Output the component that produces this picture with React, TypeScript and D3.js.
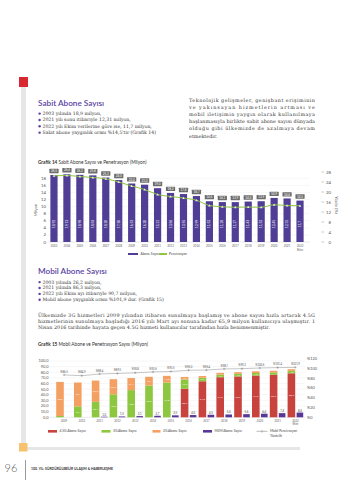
import React from 'react';
import * as d3 from 'd3';

const years14 = ['2003','2004','2005','2006','2007','2008','2009','2010','2011','2012','2013','2014','2015','2016','2017','2018','2019','2020','2021','2022 Ekim'];
const subs14 = [18.92,19.13,18.98,18.83,18.20,17.50,16.53,16.20,15.21,13.86,13.55,12.99,11.52,11.28,11.27,11.43,11.52,12.45,12.31,11.7];
const pen14 = [26.5,26.6,26.2,25.8,25.3,24.0,22.4,21.0,19.0,18.2,17.6,16.7,14.6,14.1,13.9,14.0,13.9,14.9,14.6,14.5];
const leftTicks14 = [0,2,4,6,8,10,12,14,16,18];
const rightTicks14 = [0,4,8,12,16,20,24,28];

const years15 = ['2009','2010','2011','2012','2013','2014','2015','2016','2017','2018','2019','2020','2021','2022 Ekim'];
const g45 = [0,0,0,0,0,0,0,50.7,64.0,71.2,72.6,74.2,75.6,78.2];
const g3 = [2.3,19.4,27.4,40.8,48.3,56.5,61.8,16.5,6.2,4.6,4.6,4.5,4.1,4.3];
const g2 = [60.5,42.4,37.9,26.9,21.4,15.4,11.8,4.5,3.1,3.1,3.0,3.0,3.0,3.0];
const m2m = [0,0,1.0,1.5,2.1,2.7,3.5,4.0,4.5,5.0,5.6,6.4,7.4,8.4];
const pen15 = [86.5,84.9,88.4,89.5,90.8,92.6,93.5,96.0,96.4,98.7,99.2,100.6,101.4,101.9];
const leftTicks15 = [0,10,20,30,40,50,60,70,80,90,100];
const rightTicks15 = [0,20,40,60,80,100,120];

const sabitBullets = ['2003 yılında 18,9 milyon,','2021 yılı sonu itibarıyle 12,31 milyon,','2022 yılı Ekim verilerine göre ise, 11,7 milyon,',"Sabit abone yaygınlık oranı %14,5'tir (Grafik 14)"];
const mobilBullets = ['2003 yılında 26,2 milyon,','2021 yılında 86,3 milyon,','2022 yılı Ekim ayı itibarıyle 90,7 milyon,','Mobil abone yaygınlık oranı %101,9 dur. (Grafik 15)'];
const rightPara = ['Teknolojik gelişmeler, genişbant erişiminin','ve yakınsayan hizmetlerin artması ve','mobil iletişimin yaygın olarak kullanılmaya','başlanmasıyla birlikte sabit abone sayısı dünyada','olduğu gibi ülkemizde de azalmaya devam','etmektedir.'];
const mobilPara = ['Ülkemizde 3G hizmetleri 2009 yılından itibaren sunulmaya başlamış ve abone sayısı hızla artarak 4.5G','hizmetlerinin sunulmaya başladığı 2016 yılı Mart ayı sonuna kadar 65,9 milyon kullanıcıya ulaşmıştır. 1','Nisan 2016 tarihinde hayata geçen 4.5G hizmeti kullanıcılar tarafından hızla benimsenmiştir.'];

const PURPLE = '#4f3d96';
const TITLE = '#5b44a3';
const GREEN = '#8dc63f';
const RED = '#c8423e';
const ORANGE = '#f4a062';
const SANS = 'Lato, "Open Sans", sans-serif';
const SERIF = '"DejaVu Serif", serif';

const c = (v: number, d = 1) => v.toFixed(d).replace('.', ',');

export default function App() {
  const x14 = d3.scaleBand().domain(years14).range([47.5, 306.5]);
  const yL14 = d3.scaleLinear().domain([0, 18]).range([242, 178.3]);
  const yR14 = d3.scaleLinear().domain([0, 28]).range([242, 172]);
  const cx14 = (i: number) => (x14(years14[i]) as number) + x14.bandwidth() / 2;
  const line14 = d3.line<number>().x((_, i) => cx14(i)).y(d => yR14(d)).curve(d3.curveMonotoneX)(pen14) as string;

  const x15 = d3.scaleBand().domain(years15).range([55, 304.2]);
  const yL15 = d3.scaleLinear().domain([0, 100]).range([417.3, 361]);
  const yR15 = d3.scaleLinear().domain([0, 120]).range([417.3, 358.5]);
  const sx = (i: number) => (x15(years15[i]) as number) + 5;
  const px = (i: number) => (x15(years15[i]) as number) + 13.5;
  const line15 = d3.line<number>().x((_, i) => sx(i) + 4).y(d => yR15(d))(pen15) as string;
  const stackData = years15.map((y, i) => ({ y, a: g45[i], b: g3[i], c: g2[i] }));
  const stacked = d3.stack<any>().keys(['a', 'b', 'c'])(stackData);
  const segColors = [RED, GREEN, ORANGE];

  return (
    <svg width={339} height={480} style={{ position: 'absolute', left: 0, top: 0, background: '#fff' }}>
      <rect width={339} height={480} fill="#fff" />
      <rect x={21} y={86} width={5} height={358} fill="#e6e6e8" />
      <rect x={19} y={77} width={9} height={10} fill="#d7282f" />
      <rect x={26} y={447} width={274} height={3} fill="#e6e6e8" />
      <rect x={19} y={443} width={8.5} height={8.5} fill="#f6c26d" />

      <text x={38} y={105.5} fontFamily={SANS} fontSize={8.2} fontWeight={600} fill={TITLE}>Sabit Abone Sayısı</text>
      {sabitBullets.map((t, i) => (
        <g key={t}>
          <circle cx={39.6} cy={115 + i * 6.35 - 1.4} r={1.2} fill={TITLE} />
          <text x={42.5} y={115 + i * 6.35} fontFamily={SERIF} fontSize={4.6} fill="#333">{t}</text>
        </g>
      ))}
      {rightPara.map((t, i) => (
        <text key={t} x={189} y={101.5 + i * 7.2} fontFamily={SERIF} fontSize={4.9} fill="#333"
          {...(i < rightPara.length - 1 ? { textLength: 126, lengthAdjust: 'spacing' } : {})}>{t}</text>
      ))}

      <text x={38} y={163.5} fontFamily={SANS} fontSize={4.7} fill="#333">
        <tspan fontWeight={700}>Grafik 14</tspan> Sabit Abone Sayısı ve Penetrasyon (Milyon)
      </text>
      {leftTicks14.map(t => (
        <g key={'l14' + t}>
          <line x1={48} x2={310} y1={yL14(t)} y2={yL14(t)} stroke={t === 0 ? '#c8c8c8' : '#ececec'} strokeWidth={0.4} />
          <text x={46} y={yL14(t) + 1.5} textAnchor="end" fontFamily={SANS} fontSize={4.3} fill="#555">{t}</text>
        </g>
      ))}
      {rightTicks14.map(t => (
        <g key={'r14' + t}>
          <line x1={321.5} x2={324} y1={yR14(t)} y2={yR14(t)} stroke="#777" strokeWidth={0.4} />
          <text x={331} y={yR14(t) + 1.5} textAnchor="end" fontFamily={SANS} fontSize={4.3} fill="#555">{t}</text>
        </g>
      ))}
      <text transform={`translate(37,210) rotate(-90)`} textAnchor="middle" fontFamily={SANS} fontSize={4.2} fill="#555">Milyon</text>
      <text transform={`translate(335,205) rotate(90)`} textAnchor="middle" fontFamily={SANS} fontSize={4.2} fill="#555">Yüzde (%)</text>
      {subs14.map((v, i) => (
        <g key={'b14' + i}>
          <rect x={cx14(i) - 3.6} y={yL14(v)} width={7.2} height={242 - yL14(v)} fill={PURPLE} />
          <text transform={`translate(${cx14(i) + 1.1},224) rotate(-90)`} textAnchor="middle" fontFamily={SANS} fontSize={3.4} fill="#fff">{i === subs14.length - 1 ? c(v, 1) : c(v, 2)}</text>
          <rect x={cx14(i) - 4.6} y={yL14(v) - 6.3} width={9.2} height={4.4} fill="#6b6b6b" rx={0.4} />
          <text x={cx14(i)} y={yL14(v) - 2.9} textAnchor="middle" fontFamily={SANS} fontSize={3.1} fill="#fff">{c(pen14[i], 1)}</text>
          {years14[i].split(' ').map((s, k) => (
            <text key={s} x={cx14(i)} y={247 + k * 3.5} textAnchor="middle" fontFamily={SANS} fontSize={2.9} fill="#666">{s}</text>
          ))}
        </g>
      ))}
      <path d={line14} fill="none" stroke={GREEN} strokeWidth={1} />
      {pen14.map((v, i) => (
        <path key={'m14' + i} d={`M${cx14(i) - 1.3},${yR14(v) + 1} L${cx14(i) + 1.3},${yR14(v) + 1} L${cx14(i)},${yR14(v) - 1.3}Z`} fill="#e9efdc" />
      ))}
      <rect x={128} y={253} width={10} height={2} fill={PURPLE} />
      <text x={140.5} y={255.3} fontFamily={SANS} fontSize={3.3} fill="#444">Abone Sayısı</text>
      <rect x={159} y={253} width={8} height={2} fill={GREEN} />
      <text x={169} y={255.3} fontFamily={SANS} fontSize={3.3} fill="#444">Penetrasyon</text>

      <text x={38} y={273.5} fontFamily={SANS} fontSize={8.2} fontWeight={600} fill={TITLE}>Mobil Abone Sayısı</text>
      {mobilBullets.map((t, i) => (
        <g key={t}>
          <circle cx={39.6} cy={283.5 + i * 5.9 - 1.4} r={1.2} fill={TITLE} />
          <text x={42.5} y={283.5 + i * 5.9} fontFamily={SERIF} fontSize={4.6} fill="#333">{t}</text>
        </g>
      ))}
      {mobilPara.map((t, i) => (
        <text key={t} x={38} y={316.5 + i * 6.1} fontFamily={SERIF} fontSize={4.9} fill="#333"
          {...(i < mobilPara.length - 1 ? { textLength: 277, lengthAdjust: 'spacing' } : {})}>{t}</text>
      ))}

      <text x={38} y={345.5} fontFamily={SANS} fontSize={4.7} fill="#333">
        <tspan fontWeight={700}>Grafik 15</tspan> Mobil Abone ve Penetrasyon Sayısı (Milyon)
      </text>
      {leftTicks15.map(t => (
        <g key={'l15' + t}>
          <line x1={50} x2={305} y1={yL15(t)} y2={yL15(t)} stroke={t === 0 ? '#c8c8c8' : '#ececec'} strokeWidth={0.4} />
          <text x={48.5} y={yL15(t) + 1.4} textAnchor="end" fontFamily={SANS} fontSize={3.9} fill="#555">{c(t, 1)}</text>
        </g>
      ))}
      {rightTicks15.map(t => (
        <text key={'r15' + t} x={307} y={yR15(t) + 1.4} fontFamily={SANS} fontSize={3.9} fill="#555">%{t}</text>
      ))}
      {stacked.map((layer, li) => layer.map((seg, i) => {
        const v = seg[1] - seg[0];
        if (v <= 0) return null;
        const y0 = yL15(seg[0]), y1 = yL15(seg[1]);
        return (
          <g key={'s' + li + '-' + i}>
            <rect x={sx(i) - 3.8} y={y1} width={7.6} height={y0 - y1} fill={segColors[li]} />
            {y0 - y1 >= 2.4 ? (
              <text x={sx(i)} y={(y0 + y1) / 2 + 0.9} textAnchor="middle" fontFamily={SANS} fontSize={2.6} fill="#fff">{c(v, 1)}</text>
            ) : null}
          </g>
        );
      }))}
      {m2m.map((v, i) => v > 0 ? (
        <g key={'p' + i}>
          <rect x={px(i) - 3.3} y={yL15(v)} width={6.6} height={417.3 - yL15(v)} fill="#5a3796" />
          <text x={px(i)} y={yL15(v) - 1} textAnchor="middle" fontFamily={SANS} fontSize={2.8} fill="#444">{c(v, 1)}</text>
        </g>
      ) : null)}
      {years15.map((y, i) => y.split(' ').map((s, k) => (
        <text key={y + s} x={sx(i) + 4} y={421.5 + k * 3.4} textAnchor="middle" fontFamily={SANS} fontSize={2.8} fill="#666">{s}</text>
      )))}
      <path d={line15} fill="none" stroke="#8c8c8c" strokeWidth={0.5} />
      {pen15.map((v, i) => (
        <g key={'pl' + i}>
          <path d={`M${sx(i) + 2.8},${yR15(v)} h2.4 M${sx(i) + 4},${yR15(v) - 1.2} v2.4`} stroke="#777" strokeWidth={0.4} />
          <text x={sx(i) + 4} y={yR15(v) - 2.4} textAnchor="middle" fontFamily={SANS} fontSize={2.7} fill="#555">%{c(v, 1)}</text>
        </g>
      ))}
      <rect x={48} y={430} width={9} height={2.6} fill={RED} />
      <text x={59.5} y={432.3} fontFamily={SANS} fontSize={3.3} fill="#444">4.5G Abone Sayısı</text>
      <rect x={101.5} y={430} width={9} height={2.6} fill={GREEN} />
      <text x={113} y={432.3} fontFamily={SANS} fontSize={3.3} fill="#444">3G Abone Sayısı</text>
      <rect x={152.5} y={430} width={8} height={2.6} fill={ORANGE} />
      <text x={163} y={432.3} fontFamily={SANS} fontSize={3.3} fill="#444">2G Abone Sayısı</text>
      <rect x={203} y={430} width={9} height={2.6} fill="#5a3796" />
      <text x={214.5} y={432.3} fontFamily={SANS} fontSize={3.3} fill="#444">M2M Abone Sayısı</text>
      <path d="M256.5,431.3 h11 M262,430 v2.6" stroke="#777" strokeWidth={0.5} />
      <text x={270} y={432.3} fontFamily={SANS} fontSize={3.3} fill="#444">Mobil Penetrasyon</text>
      <text x={270} y={437} fontFamily={SANS} fontSize={3.3} fill="#444">Yüzdelik</text>

      <text x={4.5} y={471.5} fontFamily={SANS} fontSize={11} fill="#555" fontWeight={300}>96</text>
      <line x1={25.5} x2={25.5} y1={460} y2={480} stroke="#555" strokeWidth={0.6} />
      <text x={31} y={469.5} fontFamily={SANS} fontSize={3.4} fontWeight={700} fill="#333">100. YIL: SÜRDÜRÜLEBİLİR ULAŞIM &amp; HABERLEŞME</text>
    </svg>
  );
}
